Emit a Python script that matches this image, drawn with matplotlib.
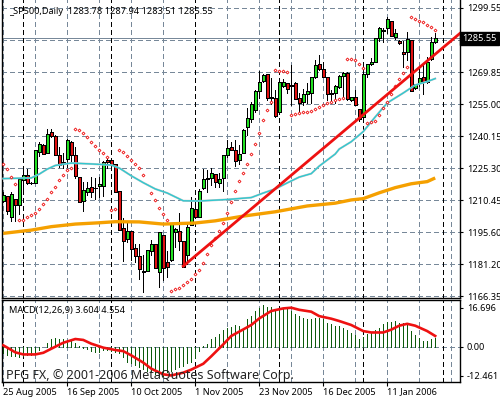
import numpy as np
import matplotlib
matplotlib.use("Agg")
import matplotlib.pyplot as plt

opens = [1209.9, 1212.3, 1202.7, 1210.8, 1208.3, 1219.7, 1221.9, 1218.2, 1218.2, 1232.9,
         1236.0, 1232.1, 1241.9, 1240.3, 1231.3, 1227.8, 1229.3, 1237.5, 1231.3, 1221.3,
         1210.1, 1214.3, 1216.4, 1215.9, 1217.1, 1217.0, 1229.0, 1229.0, 1227.0, 1214.5,
         1197.3, 1192.2, 1195.9, 1188.1, 1184.3, 1176.9, 1177.4, 1186.9, 1189.9, 1177.2,
         1194.2, 1181.5, 1182.6, 1195.7, 1195.9, 1191.4, 1185.1, 1199.0, 1206.2, 1202.4,
         1216.2, 1220.1, 1220.5, 1222.4, 1218.5, 1220.8, 1231.5, 1234.9, 1233.5, 1229.2,
         1232.1, 1244.5, 1248.2, 1252.2, 1261.2, 1265.8, 1268.8, 1258.1, 1257.7, 1251.4,
         1263.5, 1264.6, 1263.3, 1264.6, 1257.7, 1256.1, 1259.5, 1260.0, 1267.4, 1273.4,
         1271.1, 1267.4, 1259.5, 1259.9, 1262.9, 1268.2, 1269.6, 1256.9, 1258.1, 1252.5,
         1249.1, 1268.9, 1273.7, 1274.6, 1285.5, 1289.0, 1290.1, 1293.7, 1286.2, 1284.4,
         1279.0, 1279.0, 1284.7, 1262.6, 1264.9, 1267.7, 1265.4, 1275.7, 1283.78]
highs = [1214.2, 1212.3, 1214.2, 1211.0, 1220.7, 1224.4, 1224.8, 1218.6, 1233.7, 1237.5,
         1236.3, 1243.4, 1243.3, 1240.6, 1234.9, 1232.1, 1238.6, 1237.7, 1235.0, 1221.3,
         1219.0, 1219.0, 1221.3, 1220.5, 1221.3, 1228.7, 1229.8, 1229.0, 1227.0, 1214.5,
         1202.0, 1199.6, 1196.2, 1190.0, 1189.9, 1185.0, 1187.1, 1191.9, 1189.9, 1195.5,
         1194.2, 1186.8, 1199.6, 1197.6, 1204.3, 1191.4, 1199.6, 1212.0, 1209.7, 1215.6,
         1224.8, 1224.4, 1225.2, 1222.6, 1222.9, 1231.2, 1238.3, 1237.5, 1238.3, 1236.0,
         1243.4, 1253.2, 1256.1, 1261.5, 1270.5, 1268.9, 1269.0, 1267.1, 1261.5, 1265.8,
         1266.6, 1264.6, 1273.1, 1265.4, 1260.1, 1262.0, 1264.7, 1267.7, 1275.4, 1277.7,
         1274.5, 1267.4, 1261.5, 1263.8, 1268.5, 1269.9, 1269.9, 1258.1, 1261.5, 1252.5,
         1272.3, 1273.6, 1276.3, 1285.6, 1290.9, 1290.4, 1295.2, 1293.7, 1289.7, 1284.9,
         1284.2, 1288.3, 1284.7, 1264.3, 1271.6, 1273.1, 1276.7, 1286.2, 1287.94]
lows = [1209.5, 1204.0, 1200.7, 1200.9, 1204.0, 1214.6, 1217.9, 1218.0, 1218.2, 1230.9,
        1231.8, 1232.1, 1239.5, 1231.3, 1225.9, 1225.2, 1225.6, 1227.5, 1220.7, 1209.5,
        1205.5, 1212.8, 1211.7, 1210.8, 1211.7, 1212.3, 1225.2, 1225.2, 1214.3, 1196.5,
        1182.3, 1191.1, 1182.6, 1181.8, 1173.7, 1167.8, 1177.4, 1185.0, 1178.8, 1170.2,
        1173.4, 1174.9, 1182.3, 1188.8, 1187.3, 1179.2, 1180.8, 1198.9, 1202.4, 1202.4,
        1215.4, 1214.3, 1217.4, 1216.4, 1216.4, 1214.8, 1230.5, 1233.7, 1226.2, 1227.2,
        1232.1, 1240.6, 1246.8, 1251.3, 1257.7, 1265.4, 1256.9, 1255.0, 1249.1, 1251.2,
        1263.0, 1260.0, 1254.5, 1257.1, 1250.7, 1254.5, 1255.3, 1255.5, 1267.1, 1270.8,
        1267.4, 1256.9, 1256.9, 1255.5, 1262.4, 1258.4, 1256.9, 1256.4, 1254.5, 1247.3,
        1248.5, 1267.7, 1273.1, 1274.4, 1284.2, 1283.9, 1288.0, 1286.6, 1285.0, 1282.8,
        1272.3, 1275.4, 1261.0, 1262.0, 1263.4, 1259.5, 1264.9, 1275.4, 1283.51]
closes = [1212.6, 1205.5, 1213.2, 1208.3, 1220.4, 1221.9, 1218.2, 1218.3, 1233.7, 1236.3,
          1232.0, 1241.0, 1240.3, 1231.3, 1226.7, 1228.2, 1238.2, 1231.2, 1221.7, 1209.7,
          1215.1, 1215.9, 1214.0, 1215.9, 1217.7, 1228.2, 1228.2, 1226.7, 1214.3, 1196.5,
          1191.3, 1195.9, 1187.6, 1184.6, 1178.3, 1177.5, 1187.1, 1189.9, 1178.8, 1195.5,
          1178.8, 1179.5, 1199.6, 1196.9, 1191.4, 1179.2, 1197.8, 1206.6, 1202.7, 1214.6,
          1220.1, 1220.5, 1222.9, 1218.7, 1220.1, 1231.2, 1234.5, 1233.8, 1228.7, 1231.7,
          1243.0, 1248.4, 1254.9, 1260.9, 1265.4, 1268.5, 1257.9, 1257.7, 1249.6, 1265.0,
          1265.1, 1262.1, 1263.8, 1257.3, 1255.6, 1259.5, 1261.0, 1267.4, 1273.1, 1271.1,
          1267.7, 1259.5, 1260.0, 1263.4, 1268.2, 1269.6, 1257.1, 1258.1, 1254.5, 1247.9,
          1268.9, 1273.4, 1274.4, 1285.5, 1290.1, 1289.3, 1294.3, 1286.7, 1288.0, 1283.2,
          1278.2, 1285.0, 1261.2, 1264.2, 1266.9, 1265.1, 1274.4, 1283.6, 1285.55]

sar = [1227.0, 1224.7, 1221.3, 1217.7, 1201.0, 1201.0, 1202.4, 1203.4, 1204.3, 1206.2,
       1208.5, 1210.8, 1214.0, 1216.4, 1219.6, 1221.9, 1224.2, 1225.2, 1243.3, 1242.8,
       1241.4, 1239.6, 1237.2, 1235.4, 1233.7, 1232.1, 1230.3, 1205.7, 1206.2, 1233.5,
       1232.6, 1230.7, 1228.9, 1227.0, 1225.2, 1221.9, np.nan, 1213.6, 1210.3, 1206.6,
       1203.8, 1201.0, 1168.1, 1169.0, 1169.5, 1170.9, 1172.3, 1173.7, 1176.0, 1177.8,
       1181.1, 1185.3, 1189.4, 1192.7, 1195.9, 1199.6, 1204.3, 1209.4, 1214.5, 1219.1,
       1222.9, 1227.0, 1231.7, 1236.3, 1241.4, 1247.4, 1252.1, 1255.8, 1270.6, 1270.2,
       1270.2, 1269.7, 1249.8, 1250.2, 1250.7, 1251.2, 1251.2, 1251.6, 1252.5, 1253.5,
       1254.4, 1255.3, 1255.8, 1256.9, 1257.2, 1257.7, 1275.7, 1275.7, 1275.3, 1273.4,
       1271.6, 1246.0, 1246.5, 1247.0, 1249.9, 1253.0, 1255.8, 1259.5, 1263.2, 1266.5,
       1269.2, 1272.3, 1295.2, 1294.4, 1293.7, 1292.9, 1291.7, 1290.6, 1289.3]

fast_ma_bars = [0, 7, 9, 11, 13, 17, 22, 27, 29, 32, 35, 38, 41, 45, 49, 56, 62, 65, 68, 71,
                74, 77, 79, 83, 84, 87, 90, 93, 96, 100, 103, 106, 108]
fast_ma = [1220.4, 1220.7, 1222.5, 1224.8, 1226.5, 1227.6, 1227.2, 1226.7, 1225.3, 1221.7,
           1218.5, 1215.6, 1213.7, 1210.1, 1210.0, 1210.7, 1211.6, 1213.7, 1215.6, 1218.4,
           1221.1, 1222.7, 1226.2, 1231.8, 1234.1, 1237.5, 1242.2, 1249.0, 1255.5, 1260.1,
           1263.8, 1265.4, 1266.8]

slow_ma_bars = [0, 7, 12, 18, 24, 28, 34, 40, 48, 53, 60, 68, 76, 83, 87, 90, 94, 98, 102, 106, 108]
slow_ma = [1195.0, 1196.5, 1198.1, 1199.3, 1199.9, 1200.4, 1200.3, 1199.3, 1199.8, 1200.8,
           1203.0, 1205.0, 1207.7, 1209.0, 1210.5, 1211.1, 1213.8, 1216.2, 1218.0, 1219.0, 1220.7]

trend_bars = [45, 114.2]
trend_prices = [1179.8, 1287.8]

macd = [-2.9, -3.6, -3.9, -4.0, -4.3, -4.0, -3.7, -3.6, -2.9, -1.4,
        -0.3, 1.7, 3.4, 3.6, 3.1, 3.1, 2.9, 2.6, 1.7, 0.4,
        -0.4, -1.1, -1.7, -2.1, -2.1, -1.4, -1.4, -1.7, -2.1, -2.9,
        -4.3, -6.4, -7.1, -7.8, -8.6, -9.7, -10.3, -10.7, -11.8, -12.6,
        -12.6, -10.7, -10.3, -9.7, -8.6, -8.3, -7.1, -6.4, -4.7, -1.7,
        0.1, 1.3, 3.1, 4.3, 5.3, 7.1, 8.1, 8.6, 9.1, 8.8,
        8.1, 11.7, 13.1, 15.3, 16.7, 17.7, 17.1, 17.1, 15.7, 16.7,
        16.7, 16.4, 15.3, 13.8, 13.1, 12.4, 11.7, 11.7, 12.1, 12.1,
        11.7, 10.3, 9.6, 8.8, 8.8, 8.1, 7.1, 6.0, 5.0, 3.4,
        4.1, 5.3, 5.7, 7.0, 8.1, 9.6, 10.7, 10.7, 11.0, 10.3,
        10.0, 10.3, 6.7, 4.9, 3.9, 2.3, 2.4, 3.3, 3.6]

signal_bars = [0, 3, 5, 8, 10, 13, 15, 18, 20, 22, 25, 28, 30, 32, 35, 37, 40, 42, 45, 47,
               50, 52, 55, 57, 60, 62, 64, 67, 70, 72, 74, 77, 79, 82, 84, 87, 90, 92, 95,
               97, 99, 101, 103, 106, 108]
signal = [0.6, -2.4, -3.3, -3.3, -2.6, 0.0, 1.7, 3.3, 2.9, 1.3, -0.4, -1.4, -1.9, -3.7, -6.8,
          -9.4, -11.8, -12.3, -11.1, -9.8, -7.3, -4.1, 1.0, 4.6, 7.4, 9.3, 12.1, 15.3, 16.4,
          16.7, 15.8, 15.0, 13.1, 12.0, 11.0, 9.3, 6.7, 6.1, 6.1, 7.3, 9.0, 9.8, 9.0, 6.7, 4.6]

price_ticks = [1299.55, 1284.70, 1269.85, 1255.00, 1240.15, 1225.30, 1210.45, 1195.60, 1180.75, 1165.90]
price_labels = ["1299.55", "", "1269.85", "1255.00", "1240.15", "1225.30", "1210.45", "1195.60", "1181.20", "1166.35"]
date_bars = [0, 16, 32, 48, 64, 80, 96]
date_labels = ["25 Aug 2005", "16 Sep 2005", "10 Oct 2005", "1 Nov 2005", "23 Nov 2005", "16 Dec 2005", "11 Jan 2006"]
grid_bars = [0, 8, 16, 24, 32, 40, 48, 56, 64, 72, 80, 88, 96, 104, 112]
separator_bars = [5, 27, 48, 69, 90, 110]
last_price = 1285.55

plt.rcParams["font.family"] = ["Noto Sans", "DejaVu Sans"]
grid_color = "#778899"
thin = 0.65
txt_size = 6.6
bars = np.arange(len(closes))

fig = plt.figure(figsize=(5, 4), dpi=100)
ax = fig.add_axes([2 / 500, 1 - 298 / 400, 458 / 500, 298 / 400])
ax2 = fig.add_axes([2 / 500, 1 - 382 / 400, 458 / 500, 82 / 400], sharex=ax)

for a in (ax, ax2):
    for b in grid_bars:
        a.axvline(b, color=grid_color, lw=thin, dashes=(5, 3.5), zorder=1, antialiased=False)
    for b in separator_bars:
        a.axvline(b, color="black", lw=thin, dashes=(5, 4), zorder=1.5, antialiased=False)
    for side in a.spines.values():
        side.set_linewidth(1.0)
    a.spines["top"].set_visible(a is ax2)

# price panel
for p in price_ticks:
    ax.axhline(p, color=grid_color, lw=thin, dashes=(5, 3.5), zorder=1, antialiased=False)
ax.axhline(last_price, color=grid_color, lw=thin, zorder=1.2, antialiased=False)

ax.vlines(bars, lows, highs, color="black", lw=thin, zorder=2, antialiased=False)
up = [c >= o for o, c in zip(opens, closes)]
body_colors = ["#22e022" if u else "#e01111" for u in up]
ax.bar(bars, np.array(closes) - np.array(opens), bottom=opens, width=0.74,
       color=body_colors, edgecolor="black", linewidth=thin, zorder=3, antialiased=False)

ax.plot(slow_ma_bars, slow_ma, color="#f5a000", lw=2.4, zorder=4, solid_capstyle="butt")
ax.plot(fast_ma_bars, fast_ma, color="#c8c8c8", lw=1.5, zorder=4)
ax.plot(fast_ma_bars, fast_ma, color="#30c8d0", lw=1.0, zorder=4.1)
ax.plot(bars, sar, ls="none", marker="D", ms=1.5, mfc="white", mec="#ee1111", mew=0.6, zorder=5)
ax.plot(trend_bars, trend_prices, color="#ee1111", lw=2.0, zorder=6)

ax.set_xlim(-0.325, 114.2)
ax.set_ylim(1165.0, 1303.26)
ax.yaxis.tick_right()
ax.set_yticks(price_ticks)
ax.set_yticklabels(price_labels, fontsize=txt_size)
ax.tick_params(axis="y", length=2.5, width=0.8, pad=2.5)
ax.tick_params(axis="x", length=0, labelbottom=False)

ax.text(7 / 458, 1 - 11 / 298, "_SP500,Daily  1283.78 1287.94 1283.51 1285.55",
        transform=ax.transAxes, fontsize=txt_size, va="center", ha="left", zorder=8)
ax.text(1.005, last_price, "1285.55", transform=ax.get_yaxis_transform(), fontsize=txt_size,
        color="white", va="center", ha="left", clip_on=False, zorder=9,
        bbox=dict(facecolor="black", edgecolor="black", pad=1.5))

# macd panel
ax2.axhline(0, color=grid_color, lw=thin, dashes=(5, 3.5), zorder=1, antialiased=False)
ax2.vlines(bars, 0, macd, color="#0b5a0b", lw=thin, zorder=2, antialiased=False)
ax2.plot(signal_bars, signal, color="#ee1111", lw=1.9, zorder=4)
ax2.set_ylim(-15.1, 20.0)
ax2.yaxis.tick_right()
ax2.set_yticks([16.696, 0, -12.461])
ax2.set_yticklabels(["16.696", "0.00", "-12.461"], fontsize=txt_size)
ax2.tick_params(axis="y", length=2.5, width=0.8, pad=2.5)
ax2.set_xticks(date_bars)
ax2.set_xticklabels(date_labels, fontsize=txt_size, ha="left")
ax2.tick_params(axis="x", length=3, width=0.8, pad=1)

ax2.text(7 / 458, 1 - 10 / 82, "MACD(12,26,9) 3.604 4.554", transform=ax2.transAxes,
         fontsize=txt_size, va="center", ha="left", zorder=8)
ax2.text(4 / 458, 1 - 75 / 82, "PFG FX, \u00a9 2001-2006 MetaQuotes Software Corp.",
         transform=ax2.transAxes, fontsize=9.0, va="center", ha="left", color="#222222", zorder=8)

fig.savefig("out.png", dpi=100)
